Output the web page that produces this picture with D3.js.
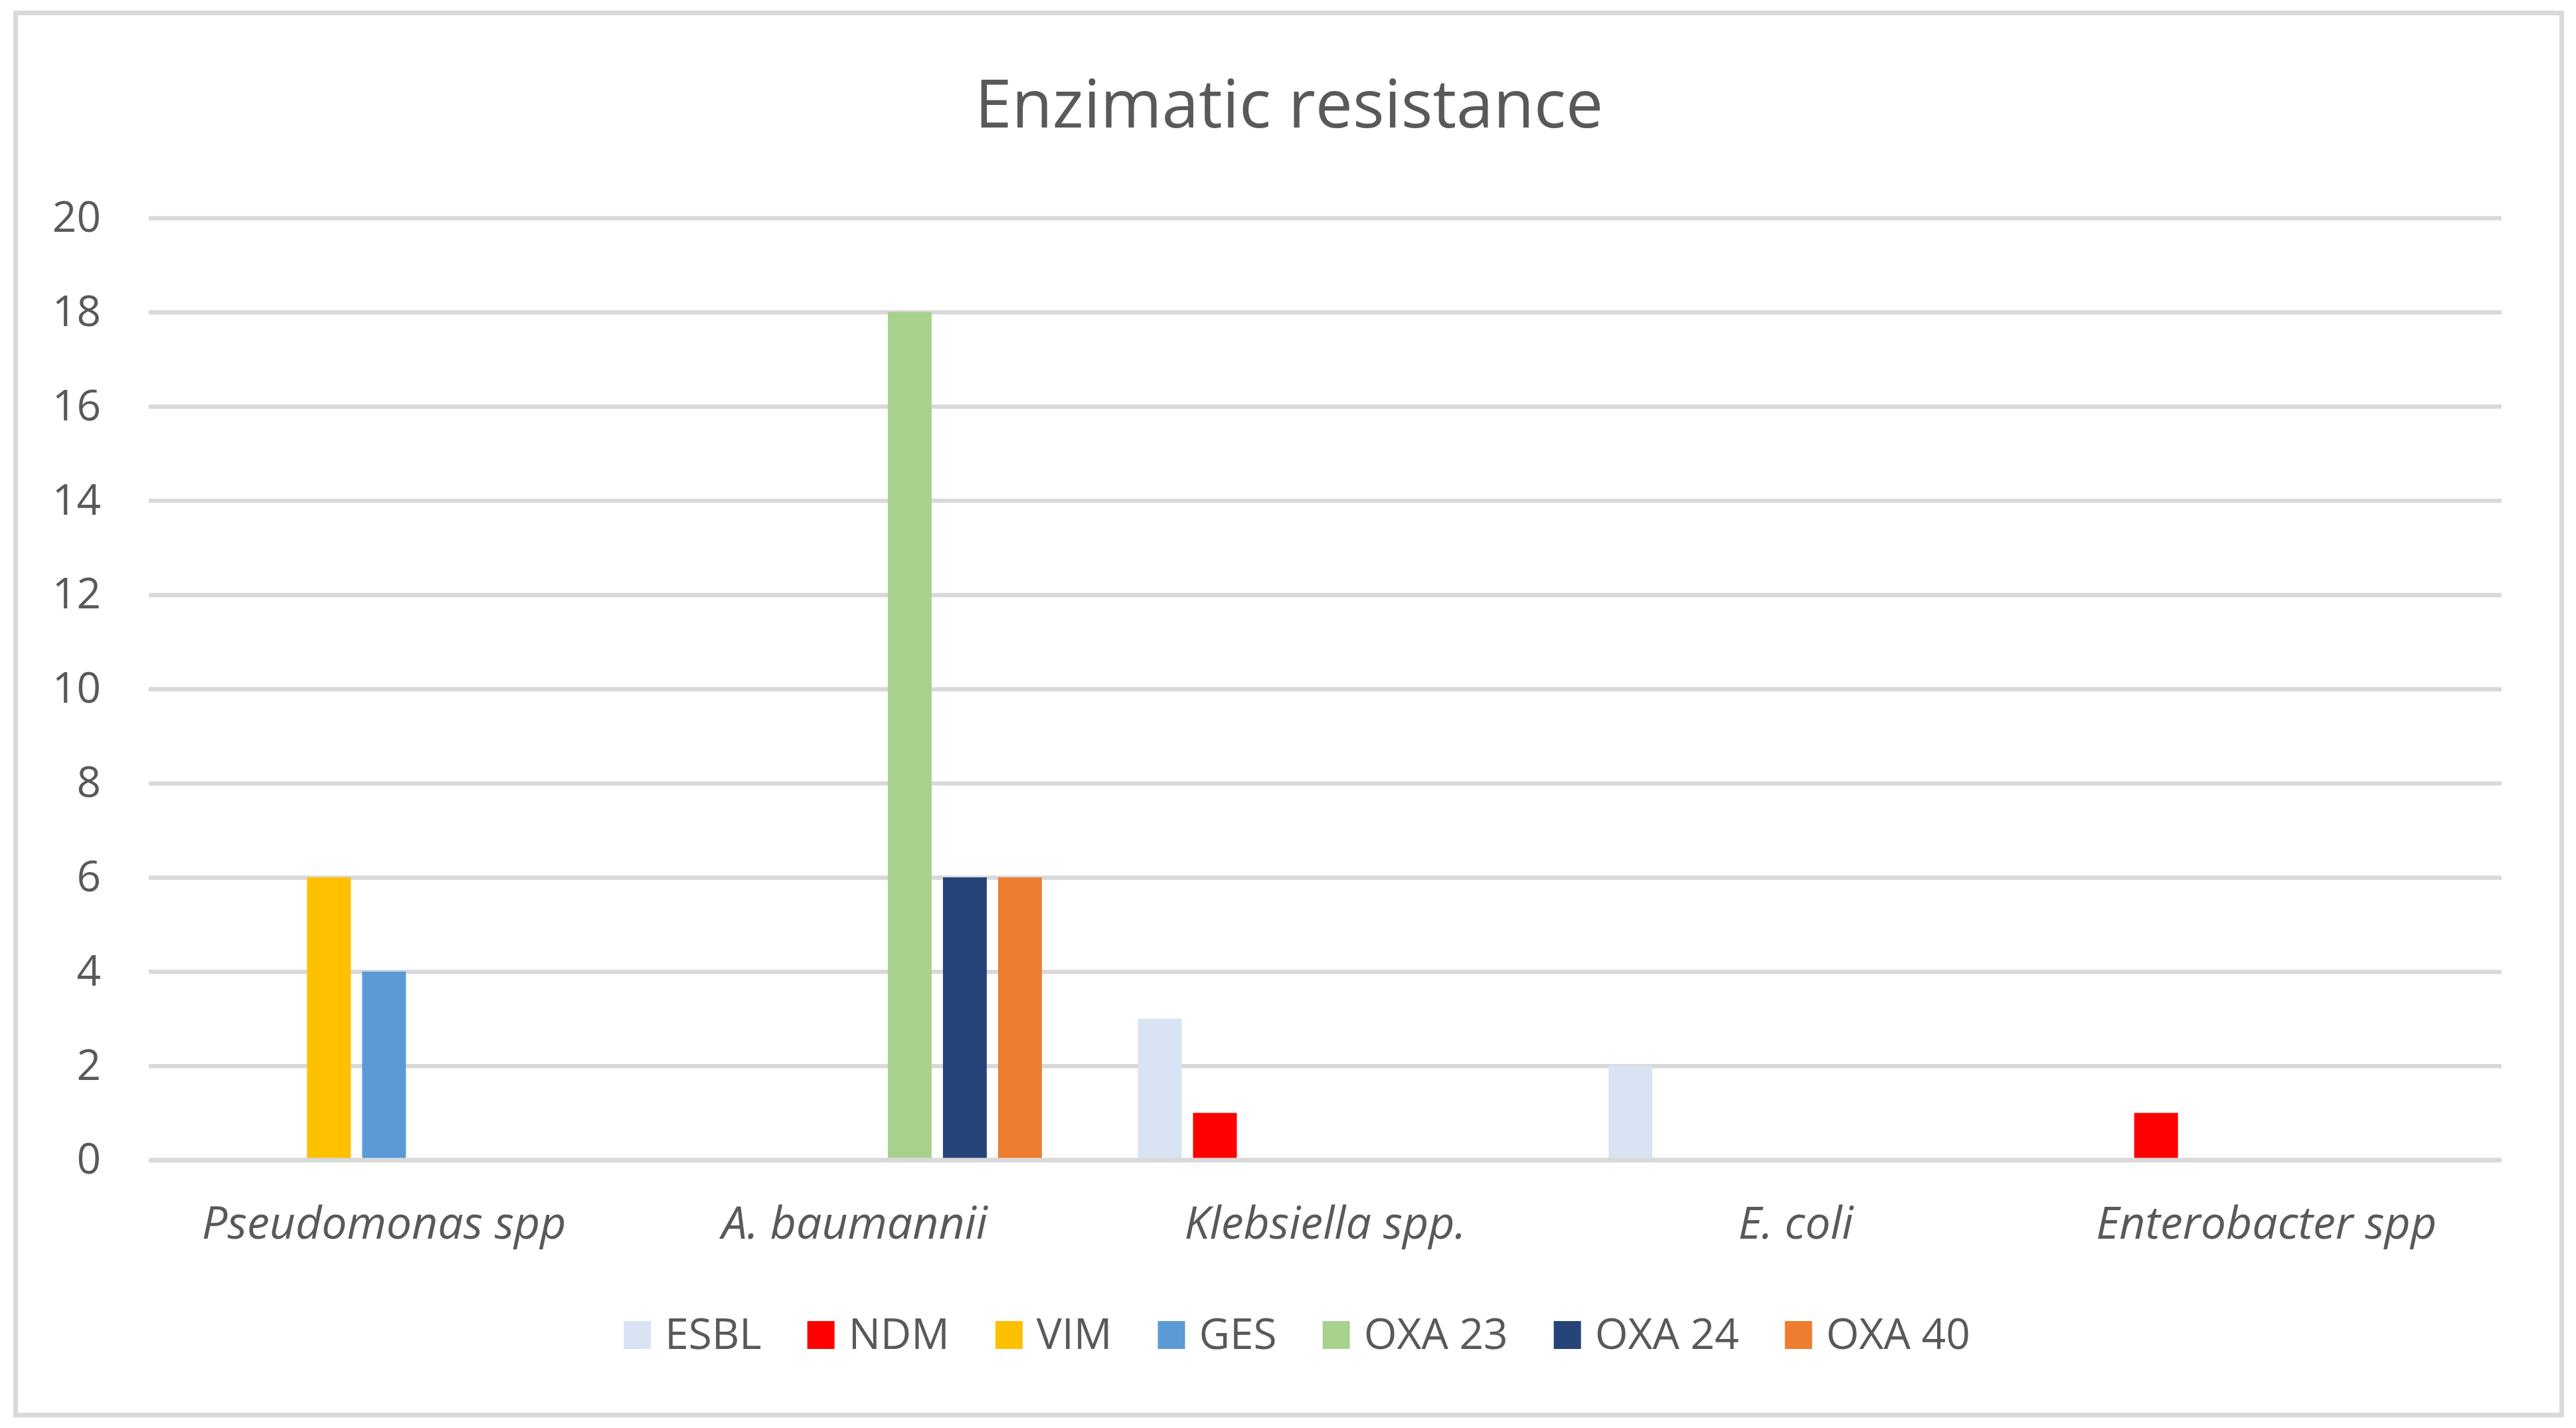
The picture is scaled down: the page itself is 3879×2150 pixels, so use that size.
<!DOCTYPE html>
<html>
<head>
<meta charset="utf-8">
<script src="https://cdn.jsdelivr.net/npm/d3@7"></script>
<style>
  html, body { margin: 0; padding: 0; background: #fff; }
  svg { display: block; }
  text { font-family: "Open Sans", "Noto Sans", sans-serif; fill: #595959; }
</style>
</head>
<body>
<svg id="chart" width="3879" height="2150"></svg>
<script>

var categories = ['Pseudomonas spp', 'A. baumannii', 'Klebsiella spp.', 'E. coli', 'Enterobacter spp'];
var seriesNames = ['ESBL', 'NDM', 'VIM', 'GES', 'OXA 23', 'OXA 24', 'OXA 40'];
var seriesColors = ['#DAE3F3', '#FF0000', '#FFC000', '#5B9BD5', '#A9D18E', '#264478', '#ED7D31'];

// one array per series, in category order
var esbl  = [0, 0, 3, 2, 0];
var ndm   = [0, 0, 1, 0, 1];
var vim   = [6, 0, 0, 0, 0];
var ges   = [4, 0, 0, 0, 0];
var oxa23 = [0, 18, 0, 0, 0];
var oxa24 = [0, 6, 0, 0, 0];
var oxa40 = [0, 6, 0, 0, 0];

var yTicks = [0, 2, 4, 6, 8, 10, 12, 14, 16, 18, 20];

var seriesValues = [esbl, ndm, vim, ges, oxa23, oxa24, oxa40];

var svg = d3.select('#chart');

var plot = { left: 224, right: 3767, top: 328, bottom: 1746.5 };
var axisFont = 64;

// outer frame
svg.append('rect')
    .attr('x', 23.5).attr('y', 19.5)
    .attr('width', 3834).attr('height', 2111)
    .attr('fill', 'white')
    .attr('stroke', '#D9D9D9')
    .attr('stroke-width', 7);

// title
svg.append('text')
    .attr('x', 1941).attr('y', 192)
    .attr('text-anchor', 'middle')
    .style('font-size', '100px')
    .text('Enzimatic resistance');

var x0 = d3.scaleBand()
    .domain(categories)
    .range([plot.left, plot.right])
    .padding(0);

var x1 = d3.scaleBand()
    .domain(seriesNames)
    .range([0, x0.bandwidth()])
    .paddingInner(0.205)
    .paddingOuter(0.871);

var y = d3.scaleLinear()
    .domain([0, 20])
    .range([plot.bottom, plot.top]);

// y axis with gridlines
var yAxis = svg.append('g')
    .attr('transform', 'translate(' + plot.left + ',0)')
    .call(d3.axisLeft(y)
        .tickValues(yTicks)
        .tickSize(-(plot.right - plot.left))
        .tickPadding(72));

yAxis.select('.domain').remove();
yAxis.selectAll('.tick line')
    .attr('stroke', '#D9D9D9')
    .attr('stroke-width', 6.5);
yAxis.selectAll('.tick text')
    .style('font-size', axisFont + 'px')
    .style('font-family', '"Open Sans", sans-serif')
    .attr('fill', '#595959');

// bars
var groups = svg.append('g').selectAll('g')
    .data(seriesNames)
    .enter().append('g')
    .attr('fill', function(d, i){ return seriesColors[i]; });

groups.selectAll('rect')
    .data(function(d, i){
        return categories.map(function(c, j){ return { cat: c, series: d, value: seriesValues[i][j] }; });
    })
    .enter().append('rect')
    .filter(function(d){ return d.value > 0; })
    .attr('x', function(d){ return x0(d.cat) + x1(d.series); })
    .attr('y', function(d){ return y(d.value); })
    .attr('width', x1.bandwidth())
    .attr('height', function(d){ return y(0) - y(d.value); });

// horizontal axis line on top of the bars
svg.append('line')
    .attr('x1', plot.left).attr('x2', plot.right)
    .attr('y1', y(0)).attr('y2', y(0))
    .attr('stroke', '#D9D9D9')
    .attr('stroke-width', 6.5);

// category labels
var xAxis = svg.append('g')
    .attr('transform', 'translate(0,' + plot.bottom + ')')
    .call(d3.axisBottom(x0).tickSize(0));

xAxis.select('.domain').remove();
xAxis.selectAll('.tick text')
    .attr('y', 118.5)
    .attr('dy', 0)
    .attr('fill', '#595959')
    .style('font-size', '68px')
    .style('font-style', 'italic')
    .style('font-family', '"Open Sans", sans-serif');

// legend
var legend = svg.append('g');
var swatch = 41, swatchGap = 21, itemGap = 69;
var lx = 0;
seriesNames.forEach(function(name, i){
    var item = legend.append('g').attr('transform', 'translate(' + lx + ',0)');
    item.append('rect')
        .attr('x', 0).attr('y', -42)
        .attr('width', swatch).attr('height', 42)
        .attr('fill', seriesColors[i]);
    var t = item.append('text')
        .attr('x', swatch + swatchGap).attr('y', 0)
        .style('font-size', axisFont + 'px')
        .text(name);
    lx += swatch + swatchGap + t.node().getComputedTextLength() + itemGap;
});
lx -= itemGap;
legend.attr('transform', 'translate(' + (1953 - lx / 2) + ',2031)');

</script>
</body>
</html>
